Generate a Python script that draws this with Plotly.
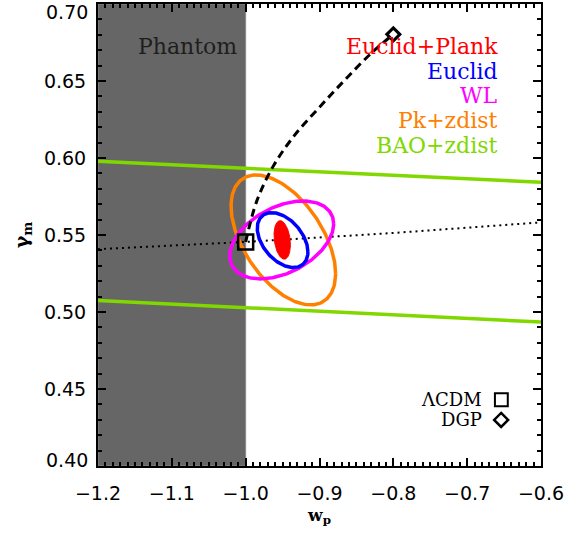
import numpy as np
import plotly.graph_objects as go

# ---------------- data ----------------
x_range = [-1.2, -0.6]
y_range = [0.40, 0.70]
x_tickvals = [-1.2, -1.1, -1.0, -0.9, -0.8, -0.7, -0.6]
y_tickvals = [0.45, 0.50, 0.55, 0.60, 0.65]
y_end_labels = ["0.70", "0.40"]

# phantom region (w < -1)
phantom_w = [-1.2, -1.0]

# BAO+zdist constraint band edges
bao_w = [-1.2, -0.6]
bao_upper = [0.5979, 0.5842]
bao_lower = [0.5075, 0.4935]

# dotted line through LCDM
dot_w = [-1.2, -1.0, -0.8, -0.6]
dot_g = [0.5408, 0.5455, 0.5513, 0.5582]

# dashed track from LCDM to DGP
track_w = [-1.0, -0.985, -0.963, -0.935, -0.900, -0.865, -0.830, -0.800]
track_g = [0.5455, 0.5720, 0.5944, 0.6140, 0.6330, 0.6510, 0.6680, 0.6803]

# model points
lcdm_w = [-1.0]
lcdm_g = [0.5455]
dgp_w = [-0.80]
dgp_g = [0.6803]

# Fisher ellipses: centre, 1-sigma widths, correlation
ell_names = ["Pk+zdist", "WL", "Euclid", "Euclid+Plank"]
ell_cw = [-0.949, -0.9512, -0.950, -0.9505]
ell_cg = [0.5468, 0.5468, 0.5467, 0.5468]
ell_sw = [0.0708, 0.0704, 0.0343, 0.0111]
ell_sg = [0.0422, 0.0253, 0.01786, 0.01253]
ell_rho = [-0.52, 0.41, -0.43, -0.25]

legend_labels = ["Euclid+Plank", "Euclid", "WL", "Pk+zdist", "BAO+zdist"]
model_labels = ["ΛCDM", "DGP"]

# ---------------- styles ----------------
colors = {
    "Euclid+Plank": "#ff0000",
    "Euclid": "#0000ff",
    "WL": "#ff00ff",
    "Pk+zdist": "#ff7f00",
    "BAO+zdist": "#80d800",
}
SERIF = "DejaVu Serif"
SANS = "DejaVu Sans"

fig = go.Figure()

# BAO lines
for edge in (bao_upper, bao_lower):
    fig.add_trace(go.Scatter(x=bao_w, y=edge, mode="lines",
                             line=dict(color=colors["BAO+zdist"], width=3.5),
                             showlegend=False, hoverinfo="skip"))

# dotted line
fig.add_trace(go.Scatter(x=dot_w, y=dot_g, mode="lines",
                         line=dict(color="black", width=2, dash="2px,4px"),
                         showlegend=False, hoverinfo="skip"))

# ellipses
t = np.linspace(0, 2 * np.pi, 241)
for name, cw, cg, sw, sg, rho in zip(ell_names, ell_cw, ell_cg, ell_sw, ell_sg, ell_rho):
    ex = cw + sw * np.cos(t)
    ey = cg + sg * (rho * np.cos(t) + np.sqrt(1 - rho ** 2) * np.sin(t))
    if name == "Euclid+Plank":
        fig.add_trace(go.Scatter(x=ex, y=ey, mode="lines", fill="toself",
                                 fillcolor=colors[name],
                                 line=dict(color=colors[name], width=1),
                                 showlegend=False, hoverinfo="skip"))
    else:
        fig.add_trace(go.Scatter(x=ex, y=ey, mode="lines",
                                 line=dict(color=colors[name], width=3.5),
                                 showlegend=False, hoverinfo="skip"))

# dashed track
fig.add_trace(go.Scatter(x=track_w, y=track_g, mode="lines",
                         line=dict(color="black", width=3, dash="8px,5px", shape="spline"),
                         showlegend=False, hoverinfo="skip"))

# model markers
fig.add_trace(go.Scatter(x=lcdm_w, y=lcdm_g, mode="markers",
                         marker=dict(symbol="square-open", size=15, color="black",
                                     line=dict(width=2.5, color="black")),
                         showlegend=False, hoverinfo="skip"))
fig.add_trace(go.Scatter(x=dgp_w, y=dgp_g, mode="markers",
                         marker=dict(symbol="diamond-open", size=10, color="black",
                                     line=dict(width=3, color="black")),
                         showlegend=False, hoverinfo="skip"))

# phantom shaded region
fig.add_shape(type="rect", xref="x", yref="y",
              x0=phantom_w[0], x1=phantom_w[1], y0=y_range[0], y1=y_range[1],
              fillcolor="#666666", line=dict(color="#8a8a8a", width=1), layer="below")

annotations = []
annotations.append(dict(text="Phantom", xref="paper", yref="paper", x=0.086, y=0.907,
                        xanchor="left", yanchor="middle", showarrow=False,
                        font=dict(family=SERIF, size=22, color="#1e1e1e")))
leg_y = [0.907, 0.853, 0.801, 0.747, 0.693]
for lab, yy in zip(legend_labels, leg_y):
    annotations.append(dict(text=lab, xref="paper", yref="paper", x=0.9084, y=yy,
                            xanchor="right", yanchor="middle", showarrow=False,
                            font=dict(family=SERIF, size=22, color=colors[lab])))
for lab, yy in zip(model_labels, [0.1435, 0.0996]):
    annotations.append(dict(text=lab, xref="paper", yref="paper", x=0.8713, y=yy,
                            xanchor="right", yanchor="middle", showarrow=False,
                            font=dict(family=SERIF, size=18, color="black")))
# end labels of y axis (kept inside the page like the original)
for lab, yy in zip(y_end_labels, [0.983, 0.013]):
    annotations.append(dict(text=lab, xref="paper", yref="paper", x=-0.018, y=yy,
                            xanchor="right", yanchor="middle", showarrow=False,
                            font=dict(family=SANS, size=19, color="black")))

# legend keys for the model markers
fig.add_shape(type="rect", xref="paper", yref="paper",
              x0=0.896, x1=0.925, y0=0.1294, y1=0.1576,
              line=dict(color="black", width=2), fillcolor="rgba(0,0,0,0)")
dx, dy, cx, cy = 0.0158, 0.0152, 0.910, 0.0996
fig.add_shape(type="path", xref="paper", yref="paper",
              path=f"M {cx},{cy+dy} L {cx+dx},{cy} L {cx},{cy-dy} L {cx-dx},{cy} Z",
              line=dict(color="black", width=2.5))

fig.update_layout(
    width=582, height=537,
    margin=dict(l=98, r=41, t=4, b=71),
    paper_bgcolor="white", plot_bgcolor="white",
    showlegend=False,
    annotations=annotations,
    xaxis=dict(range=x_range, tickvals=x_tickvals, tickformat=".1f",
               ticks="inside", ticklen=8, tickwidth=2, tickcolor="black",
               minor=dict(dtick=0.01, ticks="inside", ticklen=4, tickwidth=1.5, tickcolor="black"),
               showline=True, linecolor="black", linewidth=2, mirror="allticks",
               showgrid=False, zeroline=False, automargin=False,
               ticklabelstandoff=9,
               tickfont=dict(family=SANS, size=19, color="black"),
               title=dict(text="<b>w</b><sub><b>p</b></sub>", standoff=6,
                          font=dict(family=SERIF, size=17, color="black"))),
    yaxis=dict(range=y_range, tickvals=y_tickvals, tickformat=".2f",
               ticks="inside", ticklen=8, tickwidth=2, tickcolor="black",
               minor=dict(dtick=0.01, ticks="inside", ticklen=4, tickwidth=1.5, tickcolor="black"),
               showline=True, linecolor="black", linewidth=2, mirror="allticks",
               showgrid=False, zeroline=False, automargin=False,
               ticklabelstandoff=6,
               tickfont=dict(family=SANS, size=19, color="black"),
               title=dict(text="<b>γ</b><sub><b>m</b></sub>", standoff=10,
                          font=dict(family=SERIF, size=19, color="black"))),
)

fig.write_html("out.html", config={"displayModeBar": False},
               post_script="document.body.style.margin='0';")
